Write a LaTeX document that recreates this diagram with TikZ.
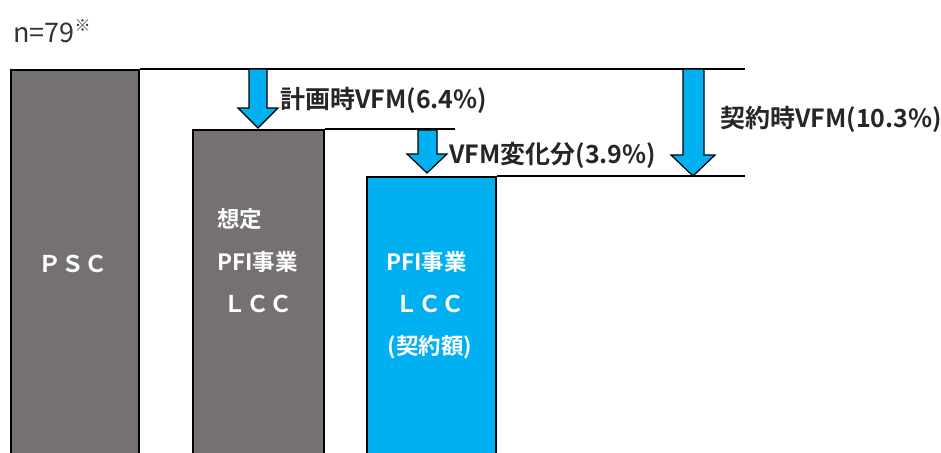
\documentclass[tikz,border=0pt]{standalone}
\usepackage{fontspec}
\setmainfont{Noto Sans CJK JP}[BoldFont={Noto Sans CJK JP Bold}]
\definecolor{bargray}{HTML}{767171}
\definecolor{barblue}{HTML}{00B0F0}
\begin{document}
\begin{tikzpicture}[x=1pt,y=-1pt,
  bar/.style={draw=black,line width=1.6pt,anchor=north west,inner sep=0pt},
  lvl/.style={draw=black,line width=1.2pt},
  dnarrow/.style={fill=barblue,draw=black,line width=1.2pt,line join=miter},
  lbl/.style={font=\bfseries\fontsize{25}{27}\selectfont,text=black!85,inner sep=0pt},
  intxt/.style={font=\bfseries\fontsize{22.5}{24}\selectfont,text=white,inner sep=0pt},
  fwtxt/.style={font=\bfseries\fontsize{23}{25}\selectfont,text=white,inner sep=0pt}]
\useasboundingbox (0,0) rectangle (941,452);
\clip (0,0) rectangle (941,452);
\node[inner sep=0pt,anchor=west,font=\fontsize{27}{29}\selectfont,text=black!80] (n) at (13,31) {n=79\raisebox{0.4em}{\fontsize{16}{16}\selectfont ※}};
% bars
\node[bar,fill=bargray,minimum width=128pt,minimum height=400pt] (psc) at (10,69) {};
\node[bar,fill=bargray,minimum width=131pt,minimum height=340pt] (plan) at (192,129) {};
\node[bar,fill=barblue,minimum width=129pt,minimum height=290pt] (pfi) at (366,176) {};
% level lines
\coordinate (l1) at (745,69);
\coordinate (l2) at (455,129);
\coordinate (l3) at (745,176);
\draw[lvl] (psc.north east) -- (l1);
\draw[lvl] (plan.north east) -- (l2);
\draw[lvl] (pfi.north east) -- (l3);
% arrows
\draw[dnarrow] (249,69) -- (267,69) -- (267,108) -- (278,108) -- (258,128) -- (238,108) -- (249,108) -- cycle;
\draw[dnarrow] (418,130) -- (437,130) -- (437,154) -- (447,154) -- (427,173) -- (407,154) -- (418,154) -- cycle;
\draw[dnarrow] (683,69) -- (704,69) -- (704,155) -- (715,155) -- (693,176) -- (671,155) -- (683,155) -- cycle;
% labels
\node[lbl,anchor=west] (a1) at (280,100) {計画時VFM(6.4\%)};
\node[lbl,anchor=west] (a2) at (449,155) {VFM変化分(3.9\%)};
\node[lbl,anchor=west] (a3) at (720,119) {契約時VFM(10.3\%)};
% inner texts
\node[fwtxt] (t1) at (73,264) {ＰＳＣ};
\node[intxt,anchor=west] (t2) at (217,219) {想定};
\node[intxt,anchor=west] (t3) at (217,262) {PFI事業};
\node[fwtxt] (t4) at (258,304) {ＬＣＣ};
\node[intxt,anchor=west] (t5) at (386,262) {PFI事業};
\node[fwtxt] (t6) at (430,304) {ＬＣＣ};
\node[intxt] (t7) at (430,347) {(契約額)};
\end{tikzpicture}
\end{document}
